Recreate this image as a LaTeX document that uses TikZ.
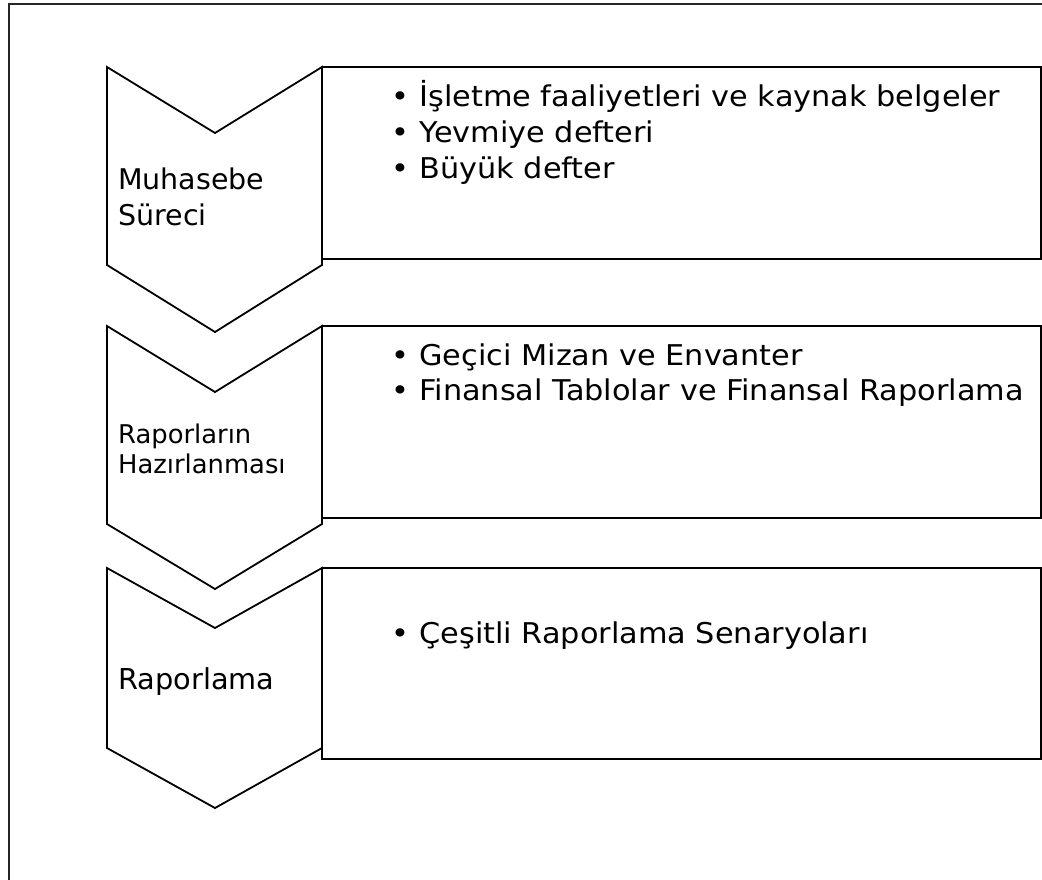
\documentclass[tikz,border=0pt]{standalone}
\usepackage{fontspec}
\setmainfont{DejaVu Sans}
\newfontfamily\itemfont{DejaVu Sans}[FakeStretch=1.06]
\usepackage{tikz}
\usetikzlibrary{positioning}

\newcommand{\blt}{\makebox[27.6pt][l]{\textbullet}}

\begin{document}
\begin{tikzpicture}[x=1pt,y=-1pt,
                    frame/.style={line width=2.4pt, black!85},
                    chevron/.style={line width=1.8pt, black, line join=miter},
                    itembox/.style={line width=1.8pt, black},
                    steptext/.style={anchor=base west, inner sep=0pt},
                    itemtext/.style={anchor=base west, inner sep=0pt, font=\itemfont\fontsize{28.6}{33}\selectfont},
                   ]

\useasboundingbox (0,0) rectangle (1042,879);
\clip (0,0) rectangle (1042,879);

% outer frame, cut at the right and bottom
\draw[frame] (1060,4) -- (9,4) -- (9,900);

% chevrons
\draw[chevron] (107,67) -- (215,133) -- (322,67) -- (322,265) -- (215,332) -- (107,265) -- cycle;
\draw[chevron] (107,326) -- (215,392) -- (322,326) -- (322,524) -- (215,589) -- (107,524) -- cycle;
\draw[chevron] (107,568) -- (215,628) -- (322,568) -- (322,748) -- (215,808) -- (107,748) -- cycle;

% boxes
\draw[itembox] (322,67) rectangle (1041,259);
\draw[itembox] (322,326) rectangle (1041,518);
\draw[itembox] (322,568) rectangle (1041,759);

% step labels
\node[steptext, font=\fontsize{28.5}{34}\selectfont] (muh1) at (118,189) {Muhasebe};
\node[steptext, font=\fontsize{28.5}{34}\selectfont] (muh2) at (118,225) {Süreci};
\node[steptext, font=\fontsize{25.8}{30}\selectfont] (rap1) at (118,443) {Raporların};
\node[steptext, font=\fontsize{25.8}{30}\selectfont] (rap2) at (118,473) {Hazırlanması};
\node[steptext, font=\fontsize{28.8}{34}\selectfont] (rpl) at (118,689) {Raporlama};

% items
\foreach \txt [count=\i] in {İşletme faaliyetleri ve kaynak belgeler, Yevmiye defteri, Büyük defter}
  \node[itemtext] (a\i) at (391.7, 71+35.8*\i) {\blt\txt};

\foreach \txt [count=\i] in {Geçici Mizan ve Envanter, Finansal Tablolar ve Finansal Raporlama}
  \node[itemtext] (b\i) at (391.7, 330.7+35*\i) {\blt\txt};

\node[itemtext] (c1) at (391.7,643.3) {\blt Çeşitli Raporlama Senaryoları};

\end{tikzpicture}
\end{document}
